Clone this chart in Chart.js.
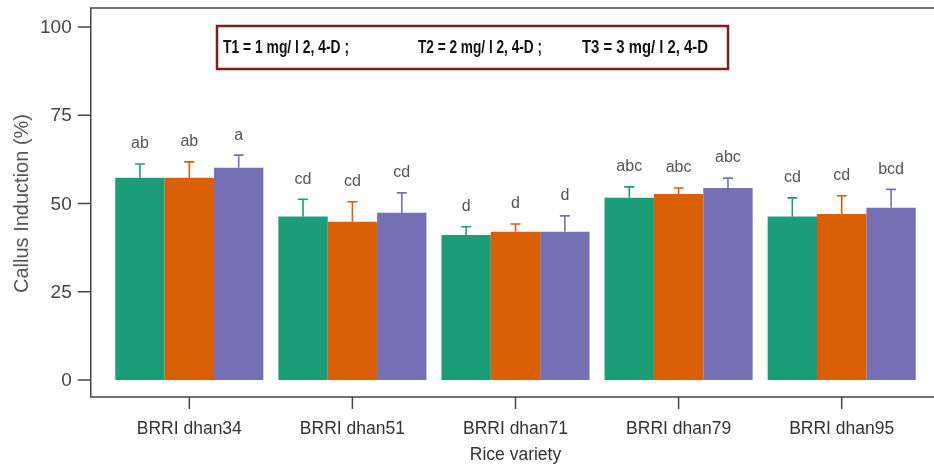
<!DOCTYPE html>
<html>
<head>
<meta charset="utf-8">
<script src="https://cdn.jsdelivr.net/npm/chart.js@4.4.0/dist/chart.umd.min.js"></script>
<style>
  html, body { margin: 0; padding: 0; background: #fff; }
  #wrap { width: 934px; height: 464px; }
</style>
</head>
<body>
<div id="wrap"><canvas id="callusChart" width="934" height="464"></canvas></div>
<script>
// ========= data =========
const varieties = ["BRRI dhan34", "BRRI dhan51", "BRRI dhan71", "BRRI dhan79", "BRRI dhan95"];

const t1Values = [57.3, 46.3, 41.1, 51.6, 46.3];
const t2Values = [57.3, 44.8, 42.0, 52.7, 47.0];
const t3Values = [60.1, 47.4, 42.0, 54.4, 48.8];

const t1Err = [3.9, 4.9, 2.3, 3.1, 5.3];
const t2Err = [4.5, 5.7, 2.2, 1.7, 5.2];
const t3Err = [3.6, 5.6, 4.5, 2.8, 5.2];

const t1Letters = ["ab", "cd", "d", "abc", "cd"];
const t2Letters = ["ab", "cd", "d", "abc", "cd"];
const t3Letters = ["a", "cd", "d", "abc", "bcd"];

const yTicks = [0, 25, 50, 75, 100];

const legendItems = ["T1 = 1 mg/ l 2, 4-D ;", "T2 = 2 mg/ l 2, 4-D ;", "T3 = 3 mg/ l 2, 4-D"];

const xTitle = "Rice variety";
const yTitle = "Callus Induction (%)";

// ========= styles =========
const colT1 = "#1b9e77";
const colT2 = "#d95f02";
const colT3 = "#7570b3";

const errors  = [t1Err, t2Err, t3Err];
const letters = [t1Letters, t2Letters, t3Letters];

// error bars + significance letters
const errorBarPlugin = {
    id: "errorBars",
    afterDatasetsDraw(chart) {
        const ctx = chart.ctx;
        const y = chart.scales.y;
        chart.data.datasets.forEach((ds, di) => {
            const meta = chart.getDatasetMeta(di);
            meta.data.forEach((bar, i) => {
                const v = ds.data[i];
                const top = y.getPixelForValue(v);
                const cap = y.getPixelForValue(v + errors[di][i]);
                ctx.save();
                ctx.strokeStyle = ds.backgroundColor;
                ctx.lineWidth = 1.6;
                ctx.beginPath();
                ctx.moveTo(bar.x, top);
                ctx.lineTo(bar.x, cap);
                ctx.moveTo(bar.x - 5, cap);
                ctx.lineTo(bar.x + 5, cap);
                ctx.stroke();

                ctx.fillStyle = "#555";
                ctx.font = "16px 'Liberation Sans', Arial, sans-serif";
                ctx.textAlign = "center";
                ctx.textBaseline = "middle";
                ctx.fillText(letters[di][i], bar.x, cap - 20);
                ctx.restore();
            });
        });
    }
};

// R-style axes, frame and the treatment box
const axesPlugin = {
    id: "rAxes",
    afterDraw(chart) {
        const ctx = chart.ctx;
        const area = chart.chartArea;
        const x = chart.scales.x;
        const y = chart.scales.y;

        const frameLeft = area.left - 17;
        const frameTop = area.top - 19;
        const frameBottom = area.bottom + 17;
        const frameRight = chart.width;

        ctx.save();
        ctx.strokeStyle = "#444";
        ctx.lineWidth = 1.5;
        ctx.beginPath();
        ctx.moveTo(frameRight, frameTop);
        ctx.lineTo(frameLeft, frameTop);
        ctx.lineTo(frameLeft, frameBottom);
        ctx.lineTo(frameRight, frameBottom);
        ctx.stroke();

        // y ticks
        ctx.fillStyle = "#444";
        ctx.font = "19px 'Liberation Sans', Arial, sans-serif";
        ctx.textAlign = "right";
        ctx.textBaseline = "middle";
        yTicks.forEach(t => {
            const py = y.getPixelForValue(t);
            ctx.beginPath();
            ctx.moveTo(frameLeft - 13, py);
            ctx.lineTo(frameLeft, py);
            ctx.stroke();
            ctx.fillText(String(t), frameLeft - 19, py + 1);
        });

        // x ticks
        ctx.fillStyle = "#333";
        ctx.font = "17.5px 'Liberation Sans', Arial, sans-serif";
        ctx.textAlign = "center";
        varieties.forEach((name, i) => {
            const px = x.getPixelForTick(i);
            ctx.beginPath();
            ctx.moveTo(px, frameBottom);
            ctx.lineTo(px, frameBottom + 12);
            ctx.stroke();
            ctx.fillText(name, px, frameBottom + 32);
        });
        ctx.fillText(xTitle, (area.left + area.right) / 2, frameBottom + 58);

        // y title
        ctx.save();
        ctx.translate(22, (area.top + area.bottom) / 2);
        ctx.rotate(-Math.PI / 2);
        ctx.fillStyle = "#555";
        ctx.font = "20px 'Liberation Sans', Arial, sans-serif";
        ctx.fillText(yTitle, 0, 0);
        ctx.restore();

        // treatment box
        ctx.strokeStyle = "#7b1f1f";
        ctx.lineWidth = 2.5;
        ctx.strokeRect(217, 26, 511, 43);
        ctx.fillStyle = "#111";
        ctx.font = "bold 19px 'Liberation Sans', Arial, sans-serif";
        ctx.textAlign = "left";
        const starts = [223, 418, 582];
        const widths = [126, 124, 126];
        legendItems.forEach((txt, i) => {
            ctx.fillText(txt, starts[i], 48, widths[i]);
        });
        ctx.restore();
    }
};

document.addEventListener("DOMContentLoaded", () => {
    const ctx = document.getElementById("callusChart");

    new Chart(ctx, {
        type: "bar",
        data: {
            labels: varieties,
            datasets: [
                { label: "T1", data: t1Values, backgroundColor: colT1 },
                { label: "T2", data: t2Values, backgroundColor: colT2 },
                { label: "T3", data: t3Values, backgroundColor: colT3 }
            ]
        },
        options: {
            responsive: false,
            animation: false,
            layout: {
                padding: { left: 107.75, right: 10.75, top: 27, bottom: 84 }
            },
            datasets: {
                bar: { categoryPercentage: 0.908, barPercentage: 1.0, borderWidth: 0 }
            },
            plugins: {
                legend: { display: false },
                tooltip: { enabled: false }
            },
            scales: {
                x: { display: false },
                y: { display: false, min: 0, max: 100 }
            }
        },
        plugins: [errorBarPlugin, axesPlugin]
    });
});
</script>
</body>
</html>
